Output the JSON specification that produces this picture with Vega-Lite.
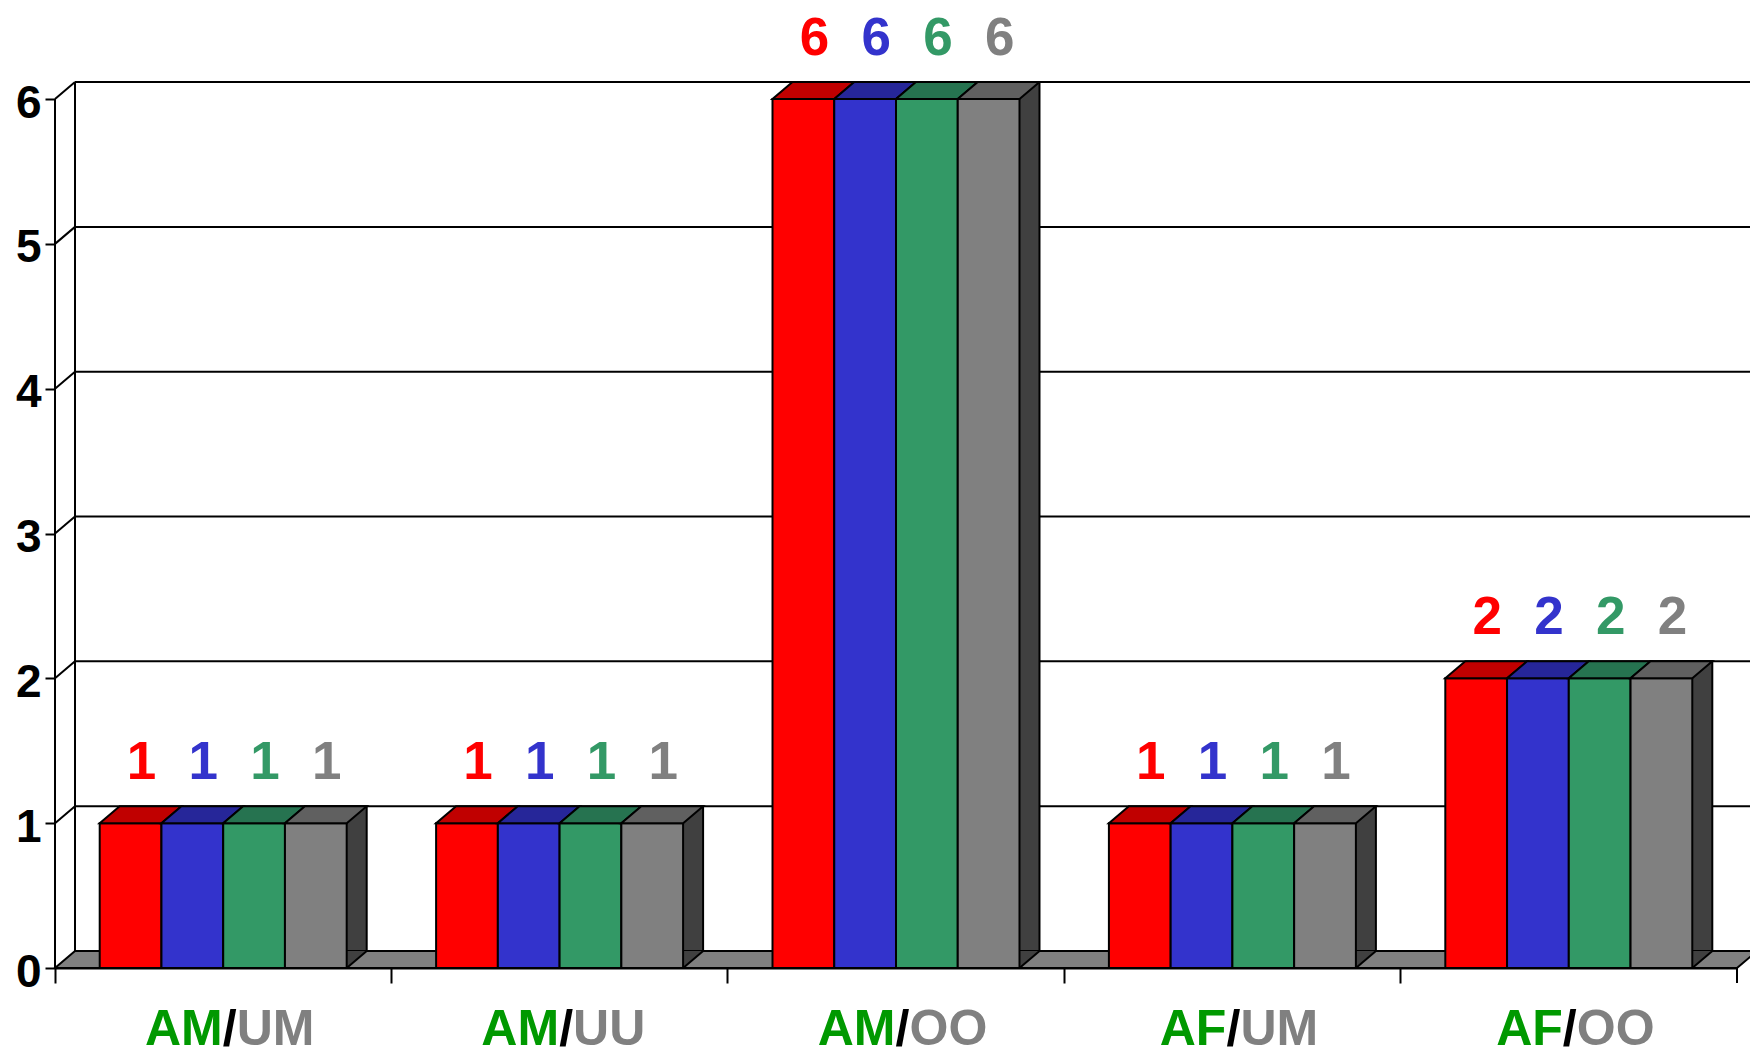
{
  "$schema": "https://vega.github.io/schema/vega-lite/v6.json",
  "width": 1682,
  "height": 968,
  "autosize": {"type": "none"},
  "padding": {"left": 55, "top": 0, "right": 13, "bottom": 81},
  "background": "white",
  "config": {"view": {"stroke": null}, "font": "Liberation Sans"},
  "resolve": {"scale": {"xOffset": "independent"}},
  "datasets": {
    "bars": [
      {"cat": "AM/UM", "series": "S1", "value": 1},
      {"cat": "AM/UM", "series": "S2", "value": 1},
      {"cat": "AM/UM", "series": "S3", "value": 1},
      {"cat": "AM/UM", "series": "S4", "value": 1},
      {"cat": "AM/UU", "series": "S1", "value": 1},
      {"cat": "AM/UU", "series": "S2", "value": 1},
      {"cat": "AM/UU", "series": "S3", "value": 1},
      {"cat": "AM/UU", "series": "S4", "value": 1},
      {"cat": "AM/OO", "series": "S1", "value": 6},
      {"cat": "AM/OO", "series": "S2", "value": 6},
      {"cat": "AM/OO", "series": "S3", "value": 6},
      {"cat": "AM/OO", "series": "S4", "value": 6},
      {"cat": "AF/UM", "series": "S1", "value": 1},
      {"cat": "AF/UM", "series": "S2", "value": 1},
      {"cat": "AF/UM", "series": "S3", "value": 1},
      {"cat": "AF/UM", "series": "S4", "value": 1},
      {"cat": "AF/OO", "series": "S1", "value": 2},
      {"cat": "AF/OO", "series": "S2", "value": 2},
      {"cat": "AF/OO", "series": "S3", "value": 2},
      {"cat": "AF/OO", "series": "S4", "value": 2}
    ],
    "levels": [{"v": 1}, {"v": 2}, {"v": 3}, {"v": 4}, {"v": 5}, {"v": 6}],
    "cats": [
      {"cat": "AM/UM", "a": "AM", "b": "UM", "g": "AM"},
      {"cat": "AM/UU", "a": "AM", "b": "UU", "g": "AM"},
      {"cat": "AM/OO", "a": "AM", "b": "OO", "g": "AM"},
      {"cat": "AF/UM", "a": "AF", "b": "UM", "g": "AF"},
      {"cat": "AF/OO", "a": "AF", "b": "OO", "g": "AF"}
    ]
  },
  "layer": [
    {
      "data": {"name": "levels"},
      "mark": {"type": "rule", "stroke": "black", "strokeWidth": 2, "xOffset": 20, "x2Offset": 40, "yOffset": -17},
      "encoding": {
        "x": {"value": 0},
        "x2": {"value": "width"},
        "y": {"field": "v", "type": "quantitative", "title": null}
      }
    },
    {
      "data": {"values": [{}]},
      "mark": {"type": "rule", "stroke": "black", "strokeWidth": 2, "xOffset": 20, "yOffset": -17, "y2Offset": -17},
      "encoding": {
        "x": {"value": 0},
        "y": {"datum": 0},
        "y2": {"datum": 6}
      }
    },
    {
      "data": {"name": "levels"},
      "mark": {"type": "point", "shape": "M0,0 L20,-17", "size": 4, "filled": false, "fill": null, "stroke": "black", "strokeWidth": 2, "opacity": 1},
      "encoding": {
        "x": {"value": 0},
        "y": {"field": "v", "type": "quantitative", "title": null}
      }
    },
    {
      "data": {"values": [{}]},
      "mark": {"type": "point", "shape": "M0,0 L1682,0 L1702,-17 L20,-17 Z", "size": 4, "filled": true, "fill": "#808080", "stroke": "black", "strokeWidth": 2, "opacity": 1},
      "encoding": {
        "x": {"value": 0},
        "y": {"datum": 0}
      }
    },
    {
      "data": {"name": "bars"},
      "transform": [{"filter": "datum.series === 'S4'"}],
      "mark": {"type": "bar", "fill": "#404040", "stroke": "black", "strokeWidth": 2, "yOffset": -17, "y2Offset": -17},
      "encoding": {
        "x": {"field": "cat", "type": "nominal", "title": null, "scale": {"domain": ["AM/UM", "AM/UU", "AM/OO", "AF/UM", "AF/OO"], "paddingInner": 0, "paddingOuter": 0}},
        "xOffset": {"field": "series", "type": "nominal", "scale": {"type": "band", "domain": ["S1", "S2", "S3", "S4"], "paddingInner": 0, "paddingOuter": 0.724, "align": 0.7237}},
        "y": {"field": "value", "type": "quantitative", "title": null}
      }
    },
    {
      "data": {"name": "bars"},
      "transform": [{"filter": "datum.series === 'S4'"}],
      "mark": {"type": "point", "shape": "M30.9,-17 L30.9,0 L50.9,-17 Z", "size": 4, "filled": true, "fill": "#404040", "strokeWidth": 0, "opacity": 1},
      "encoding": {
        "x": {"field": "cat", "type": "nominal", "title": null},
        "xOffset": {"field": "series", "type": "nominal", "scale": {"type": "band", "domain": ["S1", "S2", "S3", "S4"], "paddingInner": 0, "paddingOuter": 0.724}},
        "y": {"datum": 0}
      }
    },
    {
      "data": {"name": "bars"},
      "transform": [{"filter": "datum.series === 'S4'"}],
      "mark": {"type": "point", "shape": "M30.9,0 L50.9,-17", "size": 4, "filled": false, "fill": null, "stroke": "black", "strokeWidth": 2, "opacity": 1},
      "encoding": {
        "x": {"field": "cat", "type": "nominal", "title": null},
        "xOffset": {"field": "series", "type": "nominal", "scale": {"type": "band", "domain": ["S1", "S2", "S3", "S4"], "paddingInner": 0, "paddingOuter": 0.724}},
        "y": {"datum": 0}
      }
    },
    {
      "data": {"name": "bars"},
      "mark": {"type": "bar", "stroke": "black", "strokeWidth": 2, "opacity": 1},
      "encoding": {
        "x": {"field": "cat", "type": "nominal", "title": null,
          "axis": {"title": null, "labels": false, "domain": true, "domainColor": "black", "domainWidth": 2, "ticks": true, "tickSize": 15, "tickColor": "black", "tickWidth": 2, "bandPosition": 0, "grid": false}},
        "xOffset": {"field": "series", "type": "nominal", "scale": {"type": "band", "domain": ["S1", "S2", "S3", "S4"], "paddingInner": 0, "paddingOuter": 0.724}},
        "y": {"field": "value", "type": "quantitative", "title": null,
          "scale": {"domain": [0, 6.684], "nice": false, "zero": true},
          "axis": {"title": null, "values": [0, 1, 2, 3, 4, 5, 6], "format": "d", "domain": false, "grid": false, "ticks": true, "tickSize": 10, "tickColor": "black", "tickWidth": 2, "labelFont": "Liberation Sans", "labelFontSize": 46, "labelFontWeight": "bold", "labelColor": "black", "labelPadding": 4, "labelOffset": 4}},
        "color": {"field": "series", "type": "nominal", "legend": null,
          "scale": {"domain": ["S1", "S2", "S3", "S4"], "range": ["#FF0000", "#3333CC", "#339966", "#808080"]}}
      }
    },
    {
      "data": {"name": "bars"},
      "mark": {"type": "point", "shape": "M-30.9,0 L30.9,0 L50.9,-17 L-10.9,-17 Z", "size": 4, "filled": true, "stroke": "black", "strokeWidth": 2, "opacity": 1},
      "encoding": {
        "x": {"field": "cat", "type": "nominal", "title": null},
        "xOffset": {"field": "series", "type": "nominal", "scale": {"type": "band", "domain": ["S1", "S2", "S3", "S4"], "paddingInner": 0, "paddingOuter": 0.724}},
        "y": {"field": "value", "type": "quantitative", "title": null},
        "fill": {"field": "series", "type": "nominal", "legend": null,
          "scale": {"domain": ["S1", "S2", "S3", "S4"], "range": ["#C00000", "#262699", "#267350", "#606060"]}}
      }
    },
    {
      "data": {"name": "bars"},
      "mark": {"type": "text", "dx": 11, "dy": -44, "baseline": "alphabetic", "align": "center", "font": "Liberation Sans", "fontSize": 53, "fontWeight": "bold"},
      "encoding": {
        "x": {"field": "cat", "type": "nominal", "title": null},
        "xOffset": {"field": "series", "type": "nominal", "scale": {"type": "band", "domain": ["S1", "S2", "S3", "S4"], "paddingInner": 0, "paddingOuter": 0.724}},
        "y": {"field": "value", "type": "quantitative", "title": null},
        "text": {"field": "value", "type": "quantitative", "format": "d"},
        "color": {"field": "series", "type": "nominal", "legend": null}
      }
    },
    {
      "data": {"values": [{}]},
      "mark": {"type": "rule", "stroke": "black", "strokeWidth": 2},
      "encoding": {
        "x": {"value": 0},
        "y": {"datum": 0},
        "y2": {"datum": 6}
      }
    },
    {
      "data": {"values": [{}]},
      "mark": {"type": "rule", "stroke": "black", "strokeWidth": 2, "y2Offset": 15},
      "encoding": {
        "x": {"value": "width"},
        "y": {"datum": 0},
        "y2": {"datum": 0}
      }
    },
    {
      "data": {"name": "cats"},
      "transform": [{"filter": "datum.g === 'AM'"}],
      "mark": {"type": "text", "align": "right", "dx": -0.5, "dy": 77, "baseline": "alphabetic", "font": "Liberation Sans", "fontSize": 50, "fontWeight": "bold", "fill": "#009900"},
      "encoding": {"x": {"field": "cat", "type": "nominal", "title": null}, "y": {"datum": 0}, "text": {"field": "a"}}
    },
    {
      "data": {"name": "cats"},
      "transform": [{"filter": "datum.g === 'AM'"}],
      "mark": {"type": "text", "text": "/", "align": "center", "dx": 6.5, "dy": 77, "baseline": "alphabetic", "font": "Liberation Sans", "fontSize": 50, "fontWeight": "bold", "fill": "black"},
      "encoding": {"x": {"field": "cat", "type": "nominal", "title": null}, "y": {"datum": 0}}
    },
    {
      "data": {"name": "cats"},
      "transform": [{"filter": "datum.g === 'AM'"}],
      "mark": {"type": "text", "align": "left", "dx": 13.5, "dy": 77, "baseline": "alphabetic", "font": "Liberation Sans", "fontSize": 50, "fontWeight": "bold", "fill": "#808080"},
      "encoding": {"x": {"field": "cat", "type": "nominal", "title": null}, "y": {"datum": 0}, "text": {"field": "b"}}
    },
    {
      "data": {"name": "cats"},
      "transform": [{"filter": "datum.g === 'AF'"}],
      "mark": {"type": "text", "align": "right", "dx": -6, "dy": 77, "baseline": "alphabetic", "font": "Liberation Sans", "fontSize": 50, "fontWeight": "bold", "fill": "#009900"},
      "encoding": {"x": {"field": "cat", "type": "nominal", "title": null}, "y": {"datum": 0}, "text": {"field": "a"}}
    },
    {
      "data": {"name": "cats"},
      "transform": [{"filter": "datum.g === 'AF'"}],
      "mark": {"type": "text", "text": "/", "align": "center", "dx": 1, "dy": 77, "baseline": "alphabetic", "font": "Liberation Sans", "fontSize": 50, "fontWeight": "bold", "fill": "black"},
      "encoding": {"x": {"field": "cat", "type": "nominal", "title": null}, "y": {"datum": 0}}
    },
    {
      "data": {"name": "cats"},
      "transform": [{"filter": "datum.g === 'AF'"}],
      "mark": {"type": "text", "align": "left", "dx": 8, "dy": 77, "baseline": "alphabetic", "font": "Liberation Sans", "fontSize": 50, "fontWeight": "bold", "fill": "#808080"},
      "encoding": {"x": {"field": "cat", "type": "nominal", "title": null}, "y": {"datum": 0}, "text": {"field": "b"}}
    }
  ]
}
